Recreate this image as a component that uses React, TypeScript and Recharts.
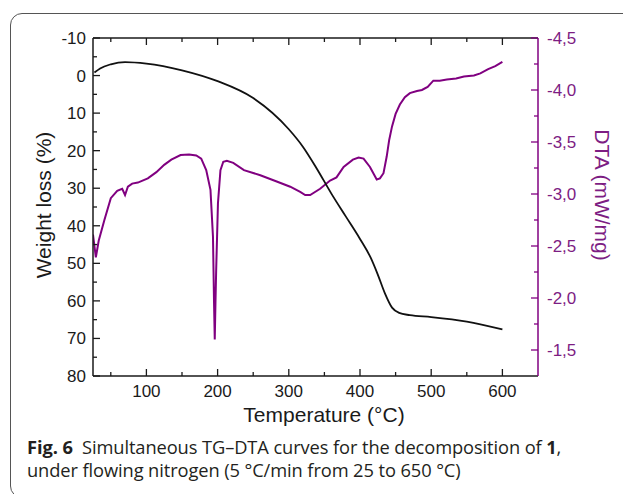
import React from 'react';
import { ComposedChart, Line, XAxis, YAxis } from 'recharts';

// TG curve (weight loss %) vs temperature (°C)
const tgTemp = [27, 35, 50, 70, 100, 150, 200, 250, 300, 320, 340, 360, 380, 400, 415, 425, 435, 445, 455, 470, 500, 550, 600];
const tgWeight = [-0.8, -1.9, -3.0, -3.6, -3.2, -1.4, 1.5, 6.0, 14.3, 19.0, 25.0, 31.5, 37.5, 43.5, 48.5, 53.0, 58.0, 61.8, 63.2, 63.8, 64.3, 65.5, 67.6];

// DTA curve (mW/mg) vs temperature (°C)
const dtaTemp = [25, 29, 33, 41, 50, 59, 66, 70, 74, 80, 88, 102, 114, 125, 135, 148, 160, 170, 177, 184, 190, 193.5, 195, 196, 197, 198, 200.5, 204, 208, 213, 222, 237, 260, 283, 302, 316, 323, 330, 344, 358, 367, 377, 390, 398, 405, 414, 423.5, 428, 433, 437.5, 441, 445, 450, 456, 463, 470, 480, 487, 495, 503, 512, 522, 535, 546, 560, 569, 580, 590, 600];
const dtaValue = [-2.61, -2.39, -2.55, -2.75, -2.96, -3.03, -3.05, -2.99, -3.07, -3.10, -3.11, -3.15, -3.21, -3.28, -3.33, -3.375, -3.38, -3.37, -3.34, -3.23, -3.04, -2.59, -1.95, -1.60, -1.95, -2.27, -2.91, -3.23, -3.31, -3.32, -3.30, -3.23, -3.18, -3.12, -3.07, -3.02, -2.99, -2.99, -3.05, -3.13, -3.16, -3.26, -3.33, -3.35, -3.34, -3.26, -3.14, -3.15, -3.20, -3.36, -3.52, -3.65, -3.77, -3.86, -3.93, -3.97, -3.99, -4.0, -4.03, -4.09, -4.09, -4.10, -4.11, -4.13, -4.14, -4.16, -4.20, -4.23, -4.27];

// Axis ticks
const xMajor = [100, 200, 300, 400, 500, 600];
const xMinor = [50, 150, 250, 350, 450, 550];
const leftMajor = [-10, 0, 10, 20, 30, 40, 50, 60, 70, 80];
const leftMinor = [-5, 5, 15, 25, 35, 45, 55, 65, 75];
const rightMajor = [-4.5, -4.0, -3.5, -3.0, -2.5, -2.0, -1.5];
const rightLabels = ['-4,5', '-4,0', '-3,5', '-3,0', '-2,5', '-2,0', '-1,5'];
const rightMinor = [-4.25, -3.75, -3.25, -2.75, -2.25, -1.75];

const tgData = tgTemp.map((t, i) => ({ t, w: tgWeight[i] }));
const dtaData = dtaTemp.map((t, i) => ({ t, d: dtaValue[i] }));

const xTicks = [...xMajor, ...xMinor].sort((a, b) => a - b);
const leftTicks = [...leftMajor, ...leftMinor].sort((a, b) => a - b);
const rightTicks = [...rightMajor, ...rightMinor].sort((a, b) => a - b);

const FONT = "'Liberation Sans', Arial, sans-serif";
const INK = '#1a1a1a';
const PURPLE = '#800080';
const PURPLE_TEXT = '#7d1d83';
const MAJ = 7;
const MIN = 4;

const BottomTick = (props: any) => {
  const { x, y, payload } = props;
  const v = payload.value;
  const major = xMajor.includes(v);
  return (
    <g>
      <line x1={x} x2={x} y1={y} y2={y - (major ? MAJ : MIN)} stroke={INK} strokeWidth={1.3} />
      {major && (
        <text x={x} y={y + 21} textAnchor="middle" fontSize={17} fill={INK} fontFamily={FONT}>
          {v}
        </text>
      )}
    </g>
  );
};

const TopTick = (props: any) => {
  const { x, y, payload } = props;
  const major = xMajor.includes(payload.value);
  return <line x1={x} x2={x} y1={y} y2={y + (major ? MAJ : MIN)} stroke={INK} strokeWidth={1.3} />;
};

const LeftTick = (props: any) => {
  const { x, y, payload } = props;
  const v = payload.value;
  const major = leftMajor.includes(v);
  return (
    <g>
      <line x1={x} x2={x + (major ? MAJ : MIN)} y1={y} y2={y} stroke={INK} strokeWidth={1.3} />
      {major && (
        <text x={x - 7} y={y + 6} textAnchor="end" fontSize={17} fill={INK} fontFamily={FONT}>
          {v}
        </text>
      )}
    </g>
  );
};

const RightTick = (props: any) => {
  const { x, y, payload } = props;
  const v = payload.value;
  const idx = rightMajor.indexOf(v);
  const major = idx >= 0;
  return (
    <g>
      <line x1={x} x2={x - (major ? MAJ : MIN)} y1={y} y2={y} stroke={PURPLE} strokeWidth={1.3} />
      {major && (
        <text x={x + 9} y={y + 6} textAnchor="start" fontSize={17} fill={PURPLE_TEXT} fontFamily={FONT}>
          {rightLabels[idx]}
        </text>
      )}
    </g>
  );
};

export default function App() {
  return (
    <div
      style={{
        position: 'absolute',
        left: 0,
        top: 0,
        width: 623,
        height: 494,
        overflow: 'hidden',
        background: '#fff',
      }}
    >
      <div
        style={{
          position: 'absolute',
          left: 10,
          top: 13,
          width: 700,
          height: 485,
          border: '1.5px solid #555',
          borderRadius: 12,
          boxSizing: 'border-box',
        }}
      />
      <div style={{ position: 'absolute', left: 0, top: 0 }}>
        <ComposedChart width={623} height={420} margin={{ top: 28, right: 25, bottom: 14, left: 33 }}>
          <XAxis
            xAxisId="bottom"
            dataKey="t"
            type="number"
            domain={[25, 650]}
            ticks={xTicks}
            interval={0}
            allowDataOverflow
            height={30}
            tickSize={0}
            tickMargin={0}
            tick={BottomTick}
            axisLine={{ stroke: INK, strokeWidth: 1.5 }}
            tickLine={false}
          />
          <XAxis
            xAxisId="top"
            orientation="top"
            dataKey="t"
            type="number"
            domain={[25, 650]}
            ticks={xTicks}
            interval={0}
            allowDataOverflow
            height={10}
            tickSize={0}
            tickMargin={0}
            tick={TopTick}
            axisLine={{ stroke: INK, strokeWidth: 1.5 }}
            tickLine={false}
          />
          <YAxis
            yAxisId="left"
            type="number"
            domain={[-10, 80]}
            reversed
            ticks={leftTicks}
            interval={0}
            allowDataOverflow
            width={60}
            tickSize={0}
            tickMargin={0}
            tick={LeftTick}
            axisLine={{ stroke: INK, strokeWidth: 1.5 }}
            tickLine={false}
          />
          <YAxis
            yAxisId="right"
            orientation="right"
            type="number"
            domain={[-4.5, -1.25]}
            reversed
            ticks={rightTicks}
            interval={0}
            allowDataOverflow
            width={60}
            tickSize={0}
            tickMargin={0}
            tick={RightTick}
            axisLine={{ stroke: PURPLE, strokeWidth: 1.5 }}
            tickLine={false}
          />
          <Line
            data={dtaData}
            dataKey="d"
            xAxisId="bottom"
            yAxisId="right"
            type="linear"
            stroke={PURPLE}
            strokeWidth={2}
            dot={false}
            activeDot={false}
            isAnimationActive={false}
          />
          <Line
            data={tgData}
            dataKey="w"
            xAxisId="bottom"
            yAxisId="left"
            type="monotone"
            stroke="#111"
            strokeWidth={1.8}
            dot={false}
            activeDot={false}
            isAnimationActive={false}
          />
        </ComposedChart>
      </div>
      <div
        style={{
          position: 'absolute',
          left: 44,
          top: 205,
          transform: 'translate(-50%, -50%) rotate(-90deg)',
          whiteSpace: 'nowrap',
          fontFamily: FONT,
          fontSize: 21,
          color: INK,
        }}
      >
        Weight loss (%)
      </div>
      <div
        style={{
          position: 'absolute',
          left: 602,
          top: 195,
          transform: 'translate(-50%, -50%) rotate(90deg)',
          whiteSpace: 'nowrap',
          fontFamily: FONT,
          fontSize: 21,
          color: PURPLE_TEXT,
        }}
      >
        DTA (mW/mg)
      </div>
      <div
        style={{
          position: 'absolute',
          left: 324,
          top: 415,
          transform: 'translate(-50%, -50%)',
          whiteSpace: 'nowrap',
          fontFamily: FONT,
          fontSize: 21,
          color: INK,
        }}
      >
        Temperature (°C)
      </div>
      <div
        style={{
          position: 'absolute',
          left: 27,
          top: 435,
          fontFamily: "'Open Sans', 'Noto Sans', sans-serif",
          fontSize: 18.3,
          lineHeight: '23px',
          color: '#231f20',
          whiteSpace: 'nowrap',
          letterSpacing: -0.1,
        }}
      >
        <div>
          <b>Fig. 6</b>&nbsp; Simultaneous TG–DTA curves for the decomposition of <b>1</b>,
        </div>
        <div>under flowing nitrogen (5 °C/min from 25 to 650 °C)</div>
      </div>
    </div>
  );
}
